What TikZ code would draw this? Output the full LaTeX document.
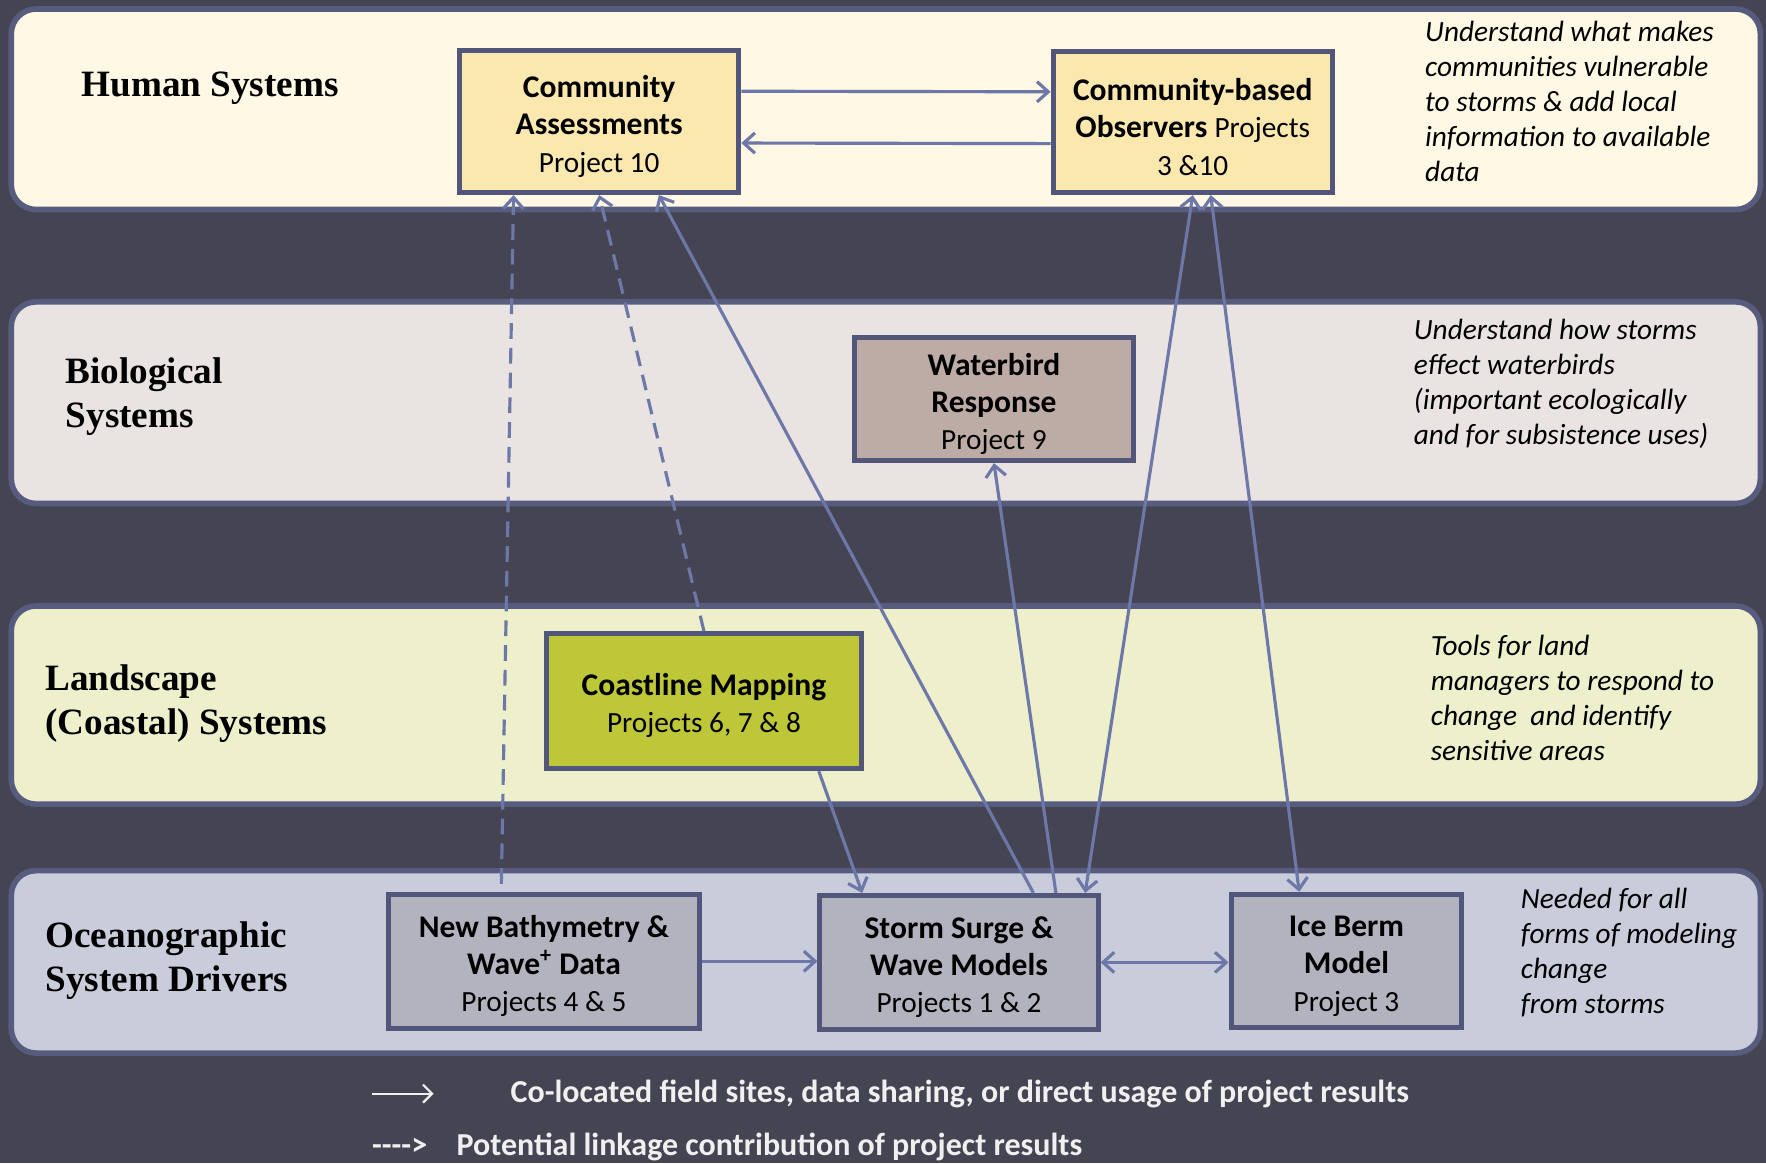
\documentclass[tikz,border=0pt]{standalone}
\usepackage{fontspec}
\setmainfont{Carlito}
\newfontfamily\bandfont{Liberation Serif}
\usetikzlibrary{arrows.meta}

\definecolor{bgdark}{HTML}{454452}
\definecolor{bandline}{HTML}{575C7E}
\definecolor{boxline}{HTML}{52567A}
\definecolor{arrowblue}{HTML}{6D78A8}
\definecolor{humanfill}{HTML}{FFF8E4}
\definecolor{biofill}{HTML}{E9E4E1}
\definecolor{landfill}{HTML}{EEF0CC}
\definecolor{oceanfill}{HTML}{C9CCDB}
\definecolor{assessfill}{HTML}{FBE8AE}
\definecolor{birdfill}{HTML}{BCACA5}
\definecolor{coastfill}{HTML}{BDC737}
\definecolor{modelfill}{HTML}{B3B2BF}
\definecolor{legendtext}{HTML}{F0F0F0}

\newcommand{\prj}[1]{{\mdseries\fontsize{13pt}{16.5pt}\selectfont #1}}
\newcommand{\lift}{\rule{0pt}{14pt}}

\tikzset{
	band/.style={draw=bandline, line width=2.5pt, rounded corners=11pt},
	projbox/.style={draw=boxline, line width=2.2pt, align=center, inner sep=0pt,
		font=\fontsize{14pt}{16.5pt}\selectfont\bfseries},
	systitle/.style={anchor=west, align=left, inner sep=0pt,
		font=\bandfont\bfseries\fontsize{16.5pt}{19.5pt}\selectfont},
	note/.style={anchor=west, align=left, inner sep=0pt,
		font=\itshape\fontsize{13pt}{15.5pt}\selectfont},
	legend/.style={anchor=west, inner sep=0pt, text=legendtext,
		font=\bfseries\fontsize{14.2pt}{16pt}\selectfont},
	linkarrow/.style={draw=arrowblue, line width=1.4pt, -{Straight Barb[length=5pt,width=9pt]}},
	twoway/.style={linkarrow, {Straight Barb[length=5pt,width=9pt]}-{Straight Barb[length=5pt,width=9pt]}},
	potential/.style={linkarrow, dash pattern=on 7pt off 4pt},
}

\begin{document}
\begin{tikzpicture}[x=0.5pt,y=-0.5pt]
	\fill[bgdark] (0,0) rectangle (1568,1033);
	% the four system bands
	\draw[band, fill=humanfill] (10,8) rectangle (1563,186);
	\draw[band, fill=biofill] (10,268) rectangle (1563,447);
	\draw[band, fill=landfill] (10,538) rectangle (1563,714);
	\draw[band, fill=oceanfill] (10,773) rectangle (1563,935);

	\node[systitle] (humantitle) at (72,78) {Human Systems};
	\node[systitle] (biotitle) at (58,352) {Biological\\Systems};
	\node[systitle] (landtitle) at (40,625) {Landscape\\(Coastal) Systems};
	\node[systitle] (oceantitle) at (40,853) {Oceanographic\\System Drivers};

	\node[note] (humannote) at (1265,90) {Understand what makes\\communities vulnerable\\to storms \& add local\\information to available\\data};
	\node[note] (bionote) at (1255,341) {Understand how storms\\effect waterbirds\\(important ecologically\\and for subsistence uses)};
	\node[note] (landnote) at (1270,620) {Tools for land\\managers to respond to\\change~ and identify\\sensitive areas};
	\node[note] (oceannote) at (1350,846) {Needed for all\\forms of modeling\\change\\from storms};

	% projects
	\node[projbox, fill=assessfill, minimum width=124pt, minimum height=63pt] (assess) at (532,108) {\lift Community\\Assessments\\\prj{Project 10}};
	\node[projbox, fill=assessfill, minimum width=124pt, minimum height=62.5pt] (observ) at (1059,108.5) {\lift Community-based\\Observers \prj{Projects}\\\prj{3 \&10}};
	\node[projbox, fill=birdfill, minimum width=123.5pt, minimum height=54.5pt] (bird) at (882.5,354.5) {\lift Waterbird\\Response\\\prj{Project 9}};
	\node[projbox, fill=coastfill, minimum width=140pt, minimum height=60pt] (coast) at (625,622.5) {\lift Coastline Mapping\\\prj{Projects 6, 7 \& 8}};
	\node[projbox, fill=modelfill, minimum width=138pt, minimum height=59.5pt] (bathy) at (483,853.5) {\lift New Bathymetry \&\\Wave\textsuperscript{+} Data\\\prj{Projects 4 \& 5}};
	\node[projbox, fill=modelfill, minimum width=123.5pt, minimum height=59.5pt] (surge) at (851.5,854.5) {\lift Storm Surge \&\\Wave Models\\\prj{Projects 1 \& 2}};
	\node[projbox, fill=modelfill, minimum width=102.5pt, minimum height=59pt] (berm) at (1195.5,853) {\lift Ice Berm\\Model\\\prj{Project 3}};

	% links
	\draw[linkarrow] ([yshift=13.5pt]assess.east) -- ([yshift=13.5pt]observ.west);
	\draw[linkarrow] ([yshift=-9.5pt]observ.west) -- ([yshift=-9.5pt]assess.east);
	\draw[potential, shorten <=3.5pt] ([xshift=-19pt]bathy.north) -- ([xshift=-38pt]assess.south);
	\draw[potential] (coast.north) -- (assess.south);
	\draw[linkarrow] ([xshift=33pt]surge.north) -- ([xshift=26.5pt]assess.south);
	\draw[linkarrow] ([xshift=43pt]surge.north) -- (bird.south);
	\draw[twoway] ([xshift=56pt]surge.north) -- (observ.south);
	\draw[twoway] ([xshift=-21pt]berm.north) -- ([xshift=8pt]observ.south);
	\draw[linkarrow] ([xshift=51pt]coast.south) -- ([xshift=-43pt]surge.north);
	\draw[linkarrow] (bathy.east) -- (bathy.east -| surge.west);
	\draw[twoway] (surge.east) -- (surge.east -| berm.west);

	% legend
	\coordinate (solidfrom) at (330,971);
	\coordinate (solidto) at (385,971);
	\draw[legendtext, line width=1pt, -{Straight Barb[length=4pt,width=8pt]}] (solidfrom) -- (solidto);
	\node[legend] (solidtext) at (453,971) {Co-located field sites, data sharing, or direct usage of project results};
	\node[legend] (dashmark) at (330,1018) {{-}{-}{-}{-}>};
	\node[legend] (dashtext) at (405,1018) {Potential linkage contribution of project results};
\end{tikzpicture}
\end{document}
